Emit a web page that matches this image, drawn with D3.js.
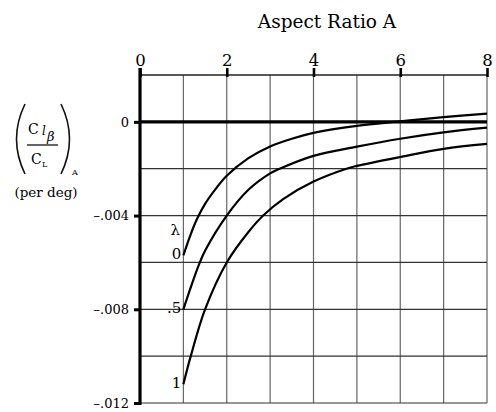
<!DOCTYPE html>
<html><head><meta charset="utf-8">
<script src="https://cdn.jsdelivr.net/npm/d3@7/dist/d3.min.js"></script>
<style>
html,body{margin:0;padding:0;background:#fff;}
svg{display:block;}
text{font-family:"DejaVu Serif",serif;fill:#000;}
</style></head>
<body>
<script>
// ---- data ----
const xTicks = [0, 2, 4, 6, 8];
const yTicks = [0, -0.004, -0.008, -0.012];
const yTickLabels = ["0", "\u2013.004", "\u2013.008", "\u2013.012"];
const seriesNames = ["0", ".5", "1"];
const A_lambda0 = [1, 1.15, 1.3, 1.5, 1.75, 2, 2.5, 3, 3.5, 4, 5, 6, 7, 8];
const C_lambda0 = [-0.0057, -0.0049, -0.0042, -0.0035, -0.00285, -0.0023, -0.00155, -0.00105, -0.00072, -0.00047, -0.00017, 0.00002, 0.0002, 0.00035];
const A_lambda05 = [1, 1.2, 1.38, 1.5, 2, 2.5, 3, 3.22, 4, 5, 6, 7, 8];
const C_lambda05 = [-0.008, -0.0069, -0.006, -0.0055, -0.004, -0.0029, -0.0022, -0.002, -0.00145, -0.00106, -0.00072, -0.00045, -0.00025];
const A_lambda1 = [1, 1.17, 1.5, 2, 2.5, 2.84, 3.3, 4, 4.76, 5, 6, 7, 8];
const C_lambda1 = [-0.0112, -0.010, -0.008, -0.006, -0.0047, -0.004, -0.0033, -0.00255, -0.002, -0.00188, -0.0015, -0.00115, -0.00094];

const series = [
  {name: seriesNames[0], A: A_lambda0, C: C_lambda0},
  {name: seriesNames[1], A: A_lambda05, C: C_lambda05},
  {name: seriesNames[2], A: A_lambda1, C: C_lambda1}
];

const W = 496, H = 412;
const svg = d3.select("body").append("svg").attr("width", W).attr("height", H);

const x = d3.scaleLinear().domain([0, 8]).range([140, 487]);
const y = d3.scaleLinear().domain([0.002, -0.012]).range([75, 403]);

// grid
const gx = d3.range(1, 9);
const gy = d3.range(-6, 1).map(k => k * 0.002).filter(v => v !== 0);
svg.append("g").selectAll("line").data(gx).join("line")
  .attr("x1", d => x(d)).attr("x2", d => x(d))
  .attr("y1", y(0.002)).attr("y2", y(-0.012))
  .attr("stroke", "#666").attr("stroke-width", 1.2);
svg.append("g").selectAll("line").data(gy).join("line")
  .attr("x1", x(0)).attr("x2", x(8))
  .attr("y1", d => y(d)).attr("y2", d => y(d))
  .attr("stroke", "#333").attr("stroke-width", 1.2);

// top border (axis)
svg.append("line").attr("x1", x(0)).attr("x2", x(8)).attr("y1", y(0.002)).attr("y2", y(0.002))
  .attr("stroke", "#222").attr("stroke-width", 1.6);

// zero line
svg.append("line").attr("x1", x(0)).attr("x2", x(8)).attr("y1", y(0)).attr("y2", y(0))
  .attr("stroke", "#000").attr("stroke-width", 3.4);

// top axis
const topAxis = svg.append("g").attr("transform", `translate(0,${y(0.002)})`)
  .call(d3.axisTop(x).tickValues(xTicks).tickSizeInner(7).tickSizeOuter(0).tickPadding(2).tickFormat(d3.format("d")));
topAxis.select(".domain").remove();
topAxis.selectAll(".tick line").attr("stroke", "#000").attr("stroke-width", 2.6).attr("y2", -7).attr("y1", 2);
topAxis.selectAll(".tick text").attr("font-family", "DejaVu Serif").attr("font-size", 16.5).attr("fill", "#000");

// left axis
const leftAxis = svg.append("g").attr("transform", `translate(${x(0)},0)`)
  .call(d3.axisLeft(y).tickValues(yTicks).tickSizeInner(6).tickSizeOuter(0).tickPadding(5)
    .tickFormat((d, i) => yTickLabels[i]));
leftAxis.select(".domain").remove();
leftAxis.selectAll(".tick line").attr("stroke", "#000").attr("stroke-width", 3);
leftAxis.selectAll(".tick text").attr("font-family", "DejaVu Serif").attr("font-size", 13).attr("fill", "#000");
svg.append("line").attr("x1", x(0)).attr("x2", x(0)).attr("y1", 68).attr("y2", y(-0.012) + 2)
  .attr("stroke", "#000").attr("stroke-width", 3.2);

// curves
const line = d3.line().x(d => x(d[0])).y(d => y(d[1])).curve(d3.curveCatmullRom.alpha(0.5));
svg.append("g").selectAll("path").data(series).join("path")
  .attr("d", s => line(s.A.map((a, i) => [a, s.C[i]])))
  .attr("fill", "none").attr("stroke", "#000").attr("stroke-width", 2.2);

// curve labels
svg.append("g").selectAll("text").data(series).join("text")
  .attr("x", s => x(s.A[0]) - 2)
  .attr("y", s => y(s.C[0]) + 4)
  .attr("text-anchor", "end").attr("font-size", 15)
  .text(s => s.name);
svg.append("text").attr("x", x(1) - 8).attr("y", 235).attr("text-anchor", "middle")
  .attr("font-size", 15).text("\u03bb");

// title
svg.append("text").attr("x", 327).attr("y", 28).attr("text-anchor", "middle")
  .attr("font-size", 18.5).text("Aspect Ratio A");

// y label
const yl = svg.append("g");
yl.append("path").attr("d", "M25,104 Q8,139 25,174").attr("fill", "none").attr("stroke", "#111").attr("stroke-width", 1.6);
yl.append("path").attr("d", "M61,104 Q78,139 61,174").attr("fill", "none").attr("stroke", "#111").attr("stroke-width", 1.6);
yl.append("text").attr("x", 28).attr("y", 134).attr("font-family", "DejaVu Sans").attr("font-size", 14).text("C");
yl.append("text").attr("x", 42).attr("y", 135).attr("font-family", "DejaVu Serif").attr("font-style", "italic").attr("font-size", 12).text("l");
yl.append("text").attr("x", 47).attr("y", 141).attr("font-family", "DejaVu Serif").attr("font-style", "italic").attr("font-size", 13).text("\u03b2");
yl.append("line").attr("x1", 27).attr("x2", 58).attr("y1", 145).attr("y2", 145).attr("stroke", "#111").attr("stroke-width", 1.3);
yl.append("text").attr("x", 31).attr("y", 164).attr("font-family", "DejaVu Sans").attr("font-size", 14).text("C");
yl.append("text").attr("x", 42).attr("y", 167).attr("font-family", "DejaVu Sans").attr("font-size", 8).text("L");
yl.append("text").attr("x", 72).attr("y", 175).attr("font-family", "DejaVu Sans").attr("font-size", 8).text("A");
yl.append("text").attr("x", 46).attr("y", 197).attr("text-anchor", "middle").attr("font-size", 13.5).text("(per deg)");
</script>
</body></html>
